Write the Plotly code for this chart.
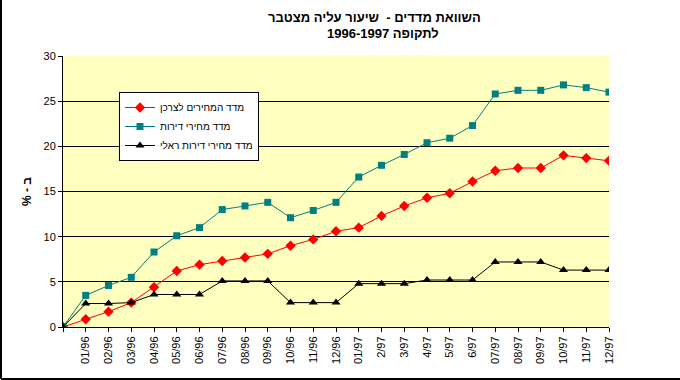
import plotly.graph_objects as go

# ---- data ----
months = ["", "01/96", "02/96", "03/96", "04/96", "05/96", "06/96", "07/96", "08/96",
          "09/96", "10/96", "11/96", "12/96", "01/97", "2/97", "3/97", "4/97", "5/97",
          "6/97", "07/97", "08/97", "09/97", "10/97", "11/97", "12/97"]
cpi = [0, 0.85, 1.7, 2.7, 4.4, 6.2, 6.9, 7.3, 7.7, 8.1, 9.0, 9.7, 10.6, 11.0,
       12.3, 13.4, 14.3, 14.8, 16.1, 17.3, 17.6, 17.6, 19.0, 18.7, 18.4]
housing = [0, 3.5, 4.6, 5.5, 8.3, 10.1, 11.0, 13.0, 13.4, 13.8, 12.1, 12.9, 13.8, 16.6,
           17.9, 19.1, 20.4, 20.9, 22.3, 25.8, 26.2, 26.2, 26.8, 26.5, 26.0]
real = [0, 2.6, 2.6, 2.7, 3.6, 3.6, 3.6, 5.1, 5.1, 5.1, 2.7, 2.7, 2.7, 4.8,
        4.8, 4.8, 5.2, 5.2, 5.2, 7.2, 7.2, 7.2, 6.3, 6.3, 6.3]
y_ticks = [0, 5, 10, 15, 20, 25, 30]

names = ["מדד המחירים לצרכן", "מדד מחירי דירות", "מדד מחירי דירות ראלי"]
RLE, PDF = "\u202b", "\u202c"

W, H = 680, 380
ML, MR, MT, MB = 63, 71, 56, 53
pw, ph = W - ML - MR, H - MT - MB

idx = list(range(len(months)))

fig = go.Figure()
fig.add_trace(go.Scatter(x=idx, y=cpi, name=RLE + names[0] + PDF, mode="lines+markers",
                         line=dict(color="#FF0000", width=1),
                         marker=dict(symbol="diamond", size=8, color="#FF0000")))
fig.add_trace(go.Scatter(x=idx, y=housing, name=RLE + names[1] + PDF, mode="lines+markers",
                         line=dict(color="#008080", width=1),
                         marker=dict(symbol="square", size=7, color="#008080")))
fig.add_trace(go.Scatter(x=idx, y=real, name=RLE + names[2] + PDF, mode="lines+markers",
                         line=dict(color="#000000", width=1),
                         marker=dict(symbol="triangle-up", size=8, color="#000000")))

font = "Liberation Sans, Arial, sans-serif"

fig.update_layout(
    width=W, height=H,
    margin=dict(l=ML, r=MR, t=MT, b=MB, pad=0),
    paper_bgcolor="white", plot_bgcolor="#FFFFC0",
    font=dict(family=font, size=11, color="black"),
    showlegend=True,
    legend=dict(x=(119 - ML) / pw, y=(H - MB - 92) / ph, xanchor="left", yanchor="top",
                bgcolor="white", bordercolor="black", borderwidth=1,
                font=dict(family=font, size=10, color="black"),
                tracegroupgap=0, itemwidth=30),
    xaxis=dict(tickmode="array", tickvals=idx, ticktext=months, range=[0, len(months) - 1],
               tickangle=-90, ticks="outside", ticklen=4, tickcolor="black",
               showline=True, linecolor="black", linewidth=1, showgrid=False,
               zeroline=False, tickfont=dict(size=11)),
    yaxis=dict(tickmode="array", tickvals=y_ticks, range=[0, 30],
               ticks="outside", ticklen=4, tickcolor="black",
               showline=True, linecolor="black", linewidth=1,
               showgrid=True, gridcolor="black", gridwidth=1, zeroline=False,
               tickfont=dict(size=11),
               title=dict(text="<b>% - ב</b>", font=dict(size=12, family=font), standoff=9)),
)

fig.add_annotation(xref="paper", yref="paper", x=(374 - ML) / pw, y=(H - MB - 18) / ph,
                   text="<b>" + RLE + "השוואת מדדים -  שיעור עליה מצטבר" + PDF + "</b>",
                   showarrow=False, font=dict(size=13, family=font), xanchor="center", yanchor="middle")
fig.add_annotation(xref="paper", yref="paper", x=(383 - ML) / pw, y=(H - MB - 33) / ph,
                   text="<b>" + RLE + "לתקופה 1996-1997" + PDF + "</b>",
                   showarrow=False, font=dict(size=13, family=font), xanchor="center", yanchor="middle")

# chart frame (left and bottom edges visible)
fig.add_shape(type="line", xref="paper", yref="paper",
              x0=(1 - ML) / pw, x1=(1 - ML) / pw, y0=(H - MB - 379) / ph, y1=(H - MB + 5) / ph,
              line=dict(color="black", width=2))
fig.add_shape(type="line", xref="paper", yref="paper",
              x0=(1 - ML) / pw, x1=(W + 5 - ML) / pw, y0=(H - MB - 379) / ph, y1=(H - MB - 379) / ph,
              line=dict(color="black", width=2))

fig.write_html("out.html", config={"displayModeBar": False},
               post_script="document.body.style.margin='0px';")
